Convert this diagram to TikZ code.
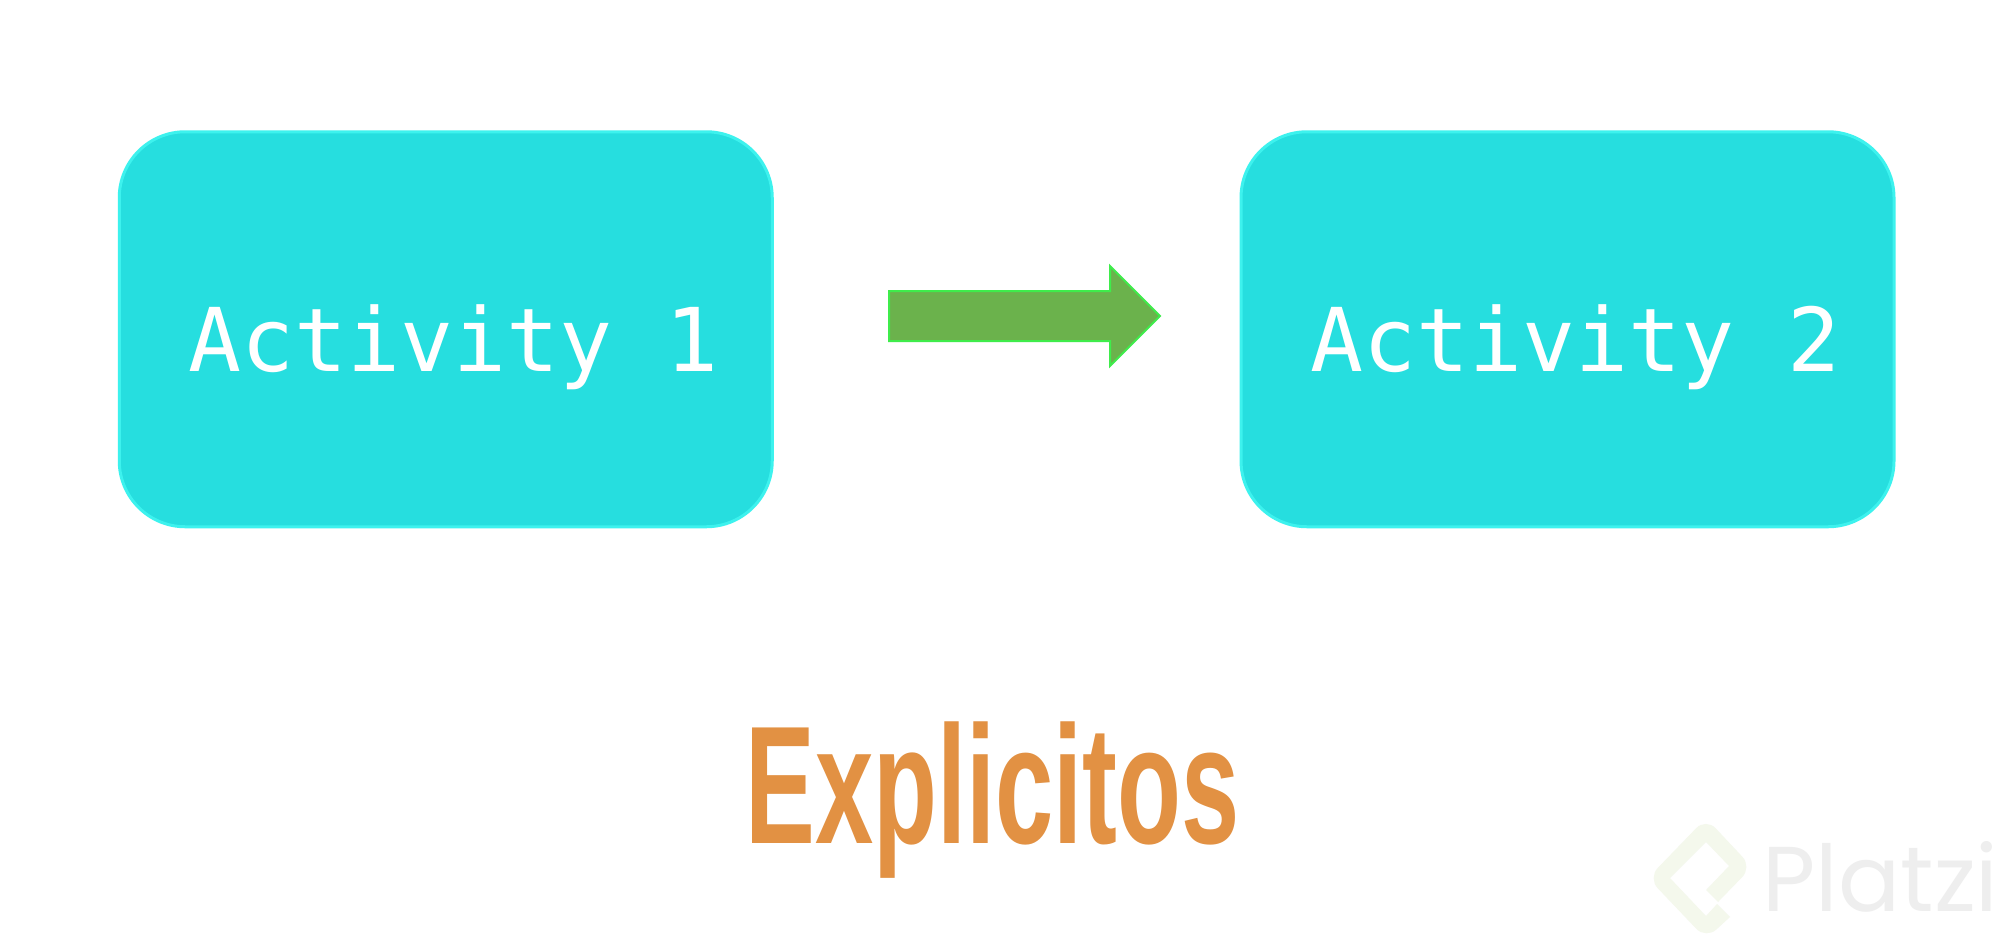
\documentclass[tikz,border=0pt]{standalone}
\usepackage{fontspec}
\newfontfamily\actfont{DejaVu Sans Mono}
\newfontfamily\expfont[FakeStretch=0.623]{Liberation Sans Bold}
\newfontfamily\logofont{Poppins}
\definecolor{boxfill}{HTML}{26DEDF}
\definecolor{boxline}{HTML}{3DF2EE}
\definecolor{arrowfill}{HTML}{6BB24C}
\definecolor{arrowline}{HTML}{3FEC4B}
\definecolor{exptext}{HTML}{E29143}
\definecolor{logomark}{HTML}{F4F8EC}
\definecolor{logotext}{HTML}{EEEEEE}
\tikzset{
  activitybox/.style={draw=boxline,line width=1.5pt,fill=boxfill,rounded corners=33pt,minimum width=326.5pt,minimum height=197.5pt,inner sep=0pt},
  acttext/.style={text=white,inner sep=0pt,anchor=base west,font=\actfont\fontsize{44}{44}\selectfont},
}
\begin{document}
\begin{tikzpicture}[x=0.5pt,y=-0.5pt]
\useasboundingbox (0,0) rectangle (2008,944);
\fill[white] (0,0) rectangle (2008,944);
\node[activitybox] (a1) at (445.75,329.25) {};
\node[activitybox] (a2) at (1567.5,329.25) {};
\node[acttext] (t1) at (188,371) {Activity 1};
\node[acttext] (t2) at (1310,371) {Activity 2};
\draw[draw=arrowline,line width=1pt,fill=arrowfill,line join=miter]
  (889,291) -- (1110,291) -- (1110,266) -- (1160,316) -- (1110,366) -- (1110,341) -- (889,341) -- cycle;
\node[text=exptext,inner sep=0pt,anchor=base west,font=\expfont\fontsize{84}{84}\selectfont] (ex) at (745,843) {Explicitos};
\fill[logomark]
  (1706,842) -- (1729,866) -- (1706,890) -- (1718,902)
  [rounded corners=7pt] -- (1752,867) -- (1706,818) -- (1648,878) -- (1706,939)
  [sharp corners] -- (1730,917) -- (1717,904) -- (1706,916) -- (1670,878) -- cycle;
\node[text=logotext,inner sep=0pt,anchor=base west,font=\logofont\fontsize{46}{46}\selectfont] (lg) at (1762,911) {Platzi};
\end{tikzpicture}
\end{document}
